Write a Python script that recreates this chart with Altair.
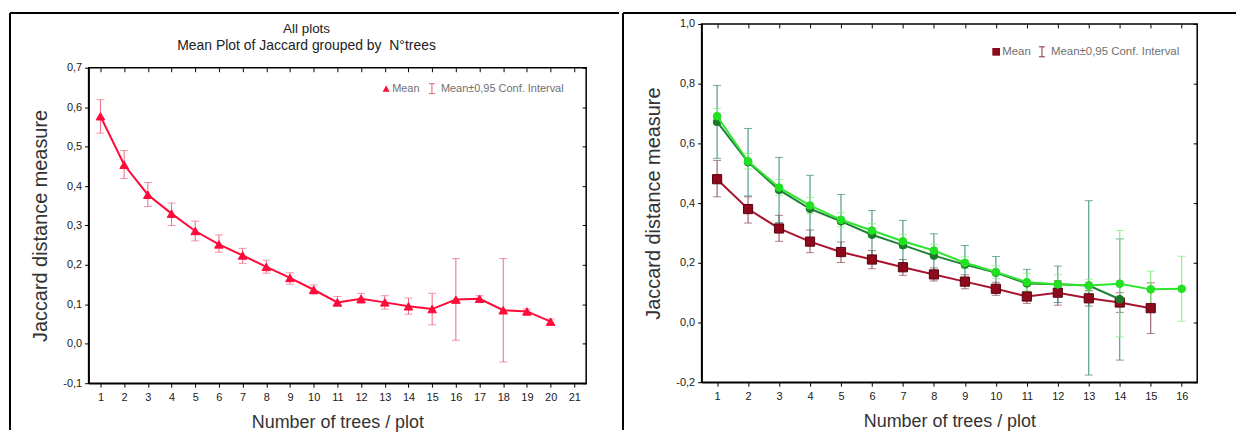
import altair as alt
import pandas as pd

# ---------------- data ----------------
# Left panel: all plots
left_n = list(range(1, 21))
left_mean = [0.577, 0.454, 0.378, 0.330, 0.286, 0.252, 0.224, 0.195, 0.167, 0.137,
             0.105, 0.114, 0.105, 0.095, 0.088, 0.112, 0.114, 0.085, 0.082, 0.056]
left_hi = [0.619, 0.490, 0.409, 0.357, 0.311, 0.276, 0.242, 0.212, 0.180, 0.149,
           0.120, 0.128, 0.122, 0.116, 0.128, 0.216, 0.122, 0.216, 0.088, 0.063]
left_lo = [0.534, 0.419, 0.348, 0.300, 0.261, 0.232, 0.204, 0.179, 0.151, 0.126,
           0.095, 0.102, 0.088, 0.075, 0.048, 0.009, 0.107, -0.046, 0.076, 0.050]
left_xticks = list(range(1, 22))
left_yticks = [-0.1, 0.0, 0.1, 0.2, 0.3, 0.4, 0.5, 0.6, 0.7]

# Right panel: three series
red_n = list(range(1, 16))
red_mean = [0.480, 0.380, 0.315, 0.271, 0.236, 0.211, 0.185, 0.161, 0.137, 0.113,
            0.087, 0.100, 0.081, 0.067, 0.048]
red_hi = [0.543, 0.421, 0.359, 0.310, 0.270, 0.241, 0.211, 0.183, 0.160, 0.135,
          0.104, 0.140, 0.107, 0.100, 0.133]
red_lo = [0.421, 0.333, 0.272, 0.234, 0.201, 0.180, 0.158, 0.139, 0.113, 0.091,
          0.064, 0.058, 0.055, 0.034, -0.037]

dgreen_n = list(range(1, 15))
dgreen_mean = [0.672, 0.537, 0.444, 0.381, 0.339, 0.294, 0.259, 0.224, 0.194, 0.167,
               0.131, 0.128, 0.124, 0.078]
dgreen_hi = [0.794, 0.650, 0.553, 0.493, 0.429, 0.375, 0.342, 0.297, 0.258, 0.221,
             0.178, 0.189, 0.408, 0.280]
dgreen_lo = [0.550, 0.424, 0.335, 0.269, 0.249, 0.213, 0.176, 0.151, 0.130, 0.113,
             0.084, 0.067, -0.176, -0.126]

lgreen_n = list(range(1, 17))
lgreen_mean = [0.691, 0.540, 0.452, 0.392, 0.344, 0.308, 0.272, 0.241, 0.200, 0.169,
               0.135, 0.128, 0.124, 0.130, 0.111, 0.113]
lgreen_hi = [0.717, 0.566, 0.479, 0.419, 0.368, 0.331, 0.295, 0.262, 0.220, 0.190,
             0.165, 0.160, 0.145, 0.308, 0.172, 0.222]
lgreen_lo = [0.665, 0.514, 0.425, 0.365, 0.320, 0.285, 0.249, 0.220, 0.180, 0.148,
             0.105, 0.096, 0.103, -0.048, 0.050, 0.004]
right_xticks = list(range(1, 17))
right_yticks = [-0.2, 0.0, 0.2, 0.4, 0.6, 0.8, 1.0]

title_lines = ["All plots", "Mean Plot of Jaccard grouped by\u00a0 N°trees"]
x_title = "Number of trees / plot"
y_title = "Jaccard distance measure"
legend_mean = "Mean"
legend_ci = "Mean±0,95 Conf. Interval"

FONT = "Liberation Sans"
LABEL_EXPR = "replace(replace(datum.label, '.', ','), '\u2212', '-')"

one = pd.DataFrame({"a": [0]})


def frame(n, mean, lo, hi):
    return pd.DataFrame({"n": n, "mean": mean, "lo": lo, "hi": hi})


def series(df, X, Y, line_color, pt_color, err_color, shape, size, pt_stroke):
    base = alt.Chart(df)
    x = alt.X("n:Q", scale=X, axis=None)
    err = base.mark_rule(color=err_color, strokeWidth=1).encode(
        x=x, y=alt.Y("lo:Q", scale=Y, axis=None), y2="hi:Q")
    cap_lo = base.mark_tick(color=err_color, orient="horizontal", size=8, thickness=1).encode(
        x=x, y=alt.Y("lo:Q", scale=Y, axis=None))
    cap_hi = base.mark_tick(color=err_color, orient="horizontal", size=8, thickness=1).encode(
        x=x, y=alt.Y("hi:Q", scale=Y, axis=None))
    line = base.mark_line(color=line_color, strokeWidth=2).encode(
        x=x, y=alt.Y("mean:Q", scale=Y, axis=None))
    pts = base.mark_point(shape=shape, filled=True, size=size, color=pt_color, opacity=1,
                          stroke=pt_stroke, strokeWidth=1).encode(
        x=x, y=alt.Y("mean:Q", scale=Y, axis=None))
    return [err, cap_lo, cap_hi], [line, pts]


def axes_layers(df, X, Y, xvals, yvals):
    main = alt.Chart(df).mark_point(opacity=0).encode(
        x=alt.X("n:Q", scale=X, axis=alt.Axis(values=xvals, title=x_title, grid=False, tickSize=4,
                                               labelPadding=4, titlePadding=12, format="d")),
        y=alt.Y("mean:Q", scale=Y, axis=alt.Axis(values=yvals, title=y_title, grid=False, tickSize=4,
                                                  labelPadding=3, titlePadding=12, format=".1f",
                                                  titleFontSize=20, labelExpr=LABEL_EXPR)))
    sec = alt.Chart(df).mark_point(opacity=0).encode(
        x=alt.X("n:Q", scale=X, axis=alt.Axis(orient="top", values=xvals, labels=False, domain=False,
                                               tickSize=4, offset=-4, title="", grid=False)),
        y=alt.Y("mean:Q", scale=Y, axis=alt.Axis(orient="right", values=yvals, labels=False,
                                                  domain=False, tickSize=4, offset=-4, title="",
                                                  grid=False)))
    return [main, sec]


def legend(px, py, sym_shape, sym_color, sym_size, ci_color, fs):
    c = alt.Chart(one)
    sym = c.mark_point(shape=sym_shape, filled=True, size=sym_size, color=sym_color, opacity=1).encode(
        x=alt.value(px), y=alt.value(py))
    t1 = c.mark_text(text=legend_mean, align="left", baseline="middle", font=FONT, fontSize=fs,
                     color="#707070").encode(x=alt.value(px + 6), y=alt.value(py))
    ib = c.mark_rule(color=ci_color, strokeWidth=1).encode(
        x=alt.value(px + 46), y=alt.value(py - 5), y2=alt.value(py + 5))
    ib1 = c.mark_rule(color=ci_color, strokeWidth=1).encode(
        x=alt.value(px + 43), x2=alt.value(px + 49), y=alt.value(py - 5))
    ib2 = c.mark_rule(color=ci_color, strokeWidth=1).encode(
        x=alt.value(px + 43), x2=alt.value(px + 49), y=alt.value(py + 5))
    t2 = c.mark_text(text=legend_ci, align="left", baseline="middle", font=FONT, fontSize=fs,
                     color="#707070").encode(x=alt.value(px + 55), y=alt.value(py))
    return [sym, t1, ib, ib1, ib2, t2]


# ---------------- left panel ----------------
XL = alt.Scale(domain=[0.5, 21.5], nice=False, zero=False)
YL = alt.Scale(domain=[-0.1, 0.7], nice=False, zero=False)
dfl = frame(left_n, left_mean, left_lo, left_hi)
e_l, m_l = series(dfl, XL, YL, "#ff0a3a", "#ff0a3a", "#ec6a80", "triangle-up", 75, "#ff0a3a")

# header (table borders + two title lines), coordinates relative to header origin
border_l = alt.Chart(one).mark_rule(color="black", strokeWidth=2).encode(
    x=alt.value(-79), y=alt.value(-11), y2=alt.value(408))
top_l = alt.Chart(one).mark_rule(color="black", strokeWidth=2).encode(
    x=alt.value(-79), x2=alt.value(533), y=alt.value(-11))
head1 = alt.Chart(one).mark_text(text=title_lines[0], font=FONT, fontSize=13.5, color="#222222",
                                 baseline="middle").encode(x=alt.value(219), y=alt.value(5))
head2 = alt.Chart(one).mark_text(text=title_lines[1], font=FONT, fontSize=14, color="#222222",
                                 baseline="middle").encode(x=alt.value(219), y=alt.value(22))
header = alt.layer(border_l, top_l, head1, head2).properties(
    width=500, height=44, view=alt.ViewBackground(stroke="transparent"))

left = alt.layer(*e_l, *m_l,
                 *axes_layers(dfl, XL, YL, left_xticks, left_yticks),
                 *legend(299, 21, "triangle-up", "#ff0a3a", 50, "#e0607a", 11)
                 ).resolve_axis(x="independent", y="independent").properties(width=500, height=317)

left_cell = alt.vconcat(header, left, spacing=0, bounds="flush")

# ---------------- right panel ----------------
XR = alt.Scale(domain=[0.5, 16.5], nice=False, zero=False)
YR = alt.Scale(domain=[-0.2, 1.0], nice=False, zero=False)
dfr = frame(red_n, red_mean, red_lo, red_hi)
dfd = frame(dgreen_n, dgreen_mean, dgreen_lo, dgreen_hi)
dfg = frame(lgreen_n, lgreen_mean, lgreen_lo, lgreen_hi)
e_r, m_r = series(dfr, XR, YR, "#a8142e", "#8c0a1c", "#8a4a55", "square", 85, "#5a0010")
e_d, m_d = series(dfd, XR, YR, "#1f8038", "#1a7a2a", "#2e8a78", "circle", 60, "#1a7a2a")
e_g, m_g = series(dfg, XR, YR, "#2ee62e", "#22e022", "#77ee77", "circle", 60, "#22e022")

border_r = alt.Chart(one).mark_rule(color="black", strokeWidth=2).encode(
    x=alt.value(-79), y=alt.value(-11), y2=alt.value(408))
top_r = alt.Chart(one).mark_rule(color="black", strokeWidth=2).encode(
    x=alt.value(-79), x2=alt.value(537), y=alt.value(-11))

right = alt.layer(border_r, top_r, *e_r, *e_d, *e_g, *m_r, *m_d, *m_g,
                  *axes_layers(dfr, XR, YR, right_xticks, right_yticks),
                  *legend(296, 28, "square", "#8c0a1c", 60, "#8a2a3a", 11.5)
                  ).resolve_axis(x="independent", y="independent").properties(width=498, height=360)

chart = alt.concat(
    left_cell, right, columns=2, spacing=0, align="none", bounds="full"
).properties(
    padding={"left": 0, "top": 2, "right": 0, "bottom": 0}
).configure_view(
    stroke="black", strokeWidth=1.5
).configure_axis(
    labelFont=FONT, labelFontSize=11, labelColor="#1a1a1a",
    titleFont=FONT, titleFontSize=18, titleFontWeight="normal", titleColor="#333333",
    domainColor="black", domainWidth=1.5, tickColor="black", tickWidth=1
)

chart.save("out.html", embed_options={"renderer": "svg", "actions": False})
